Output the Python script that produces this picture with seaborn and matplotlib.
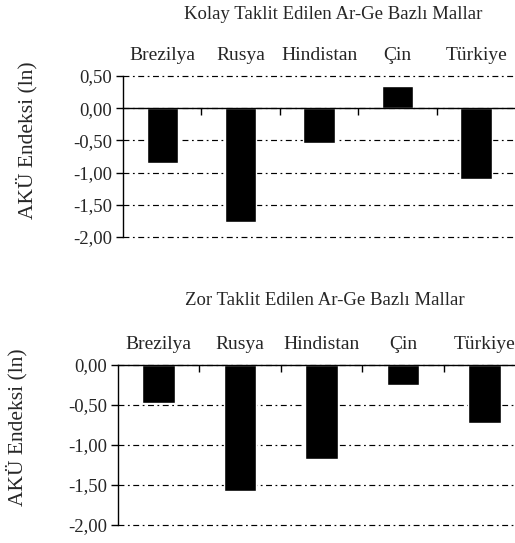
import matplotlib
matplotlib.use("Agg")
import matplotlib.pyplot as plt
from matplotlib.ticker import FuncFormatter
import seaborn as sns

# veriler
ulkeler = ["Brezilya", "Rusya", "Hindistan", "Çin", "Türkiye"]
kolay_degerler = [-0.85, -1.76, -0.54, 0.35, -1.10]
zor_degerler = [-0.48, -1.58, -1.18, -0.25, -0.73]
kolay_baslik = "Kolay Taklit Edilen Ar-Ge Bazlı Mallar"
zor_baslik = "Zor Taklit Edilen Ar-Ge Bazlı Mallar"
eksen_etiketi = "AKÜ Endeksi (ln)"
kolay_yticks = [0.5, 0.0, -0.5, -1.0, -1.5, -2.0]
zor_yticks = [0.0, -0.5, -1.0, -1.5, -2.0]

sns.set_style("white")
plt.rcParams['font.family'] = ['Liberation Serif', 'DejaVu Serif']

fig = plt.figure(figsize=(5.15, 5.43), dpi=100)

virgul = FuncFormatter(lambda v, p: f"{v:.2f}".replace(".", ","))
cizgi = (0, (5, 3, 1.5, 3))


def ciz(ax, degerler, ylim, yticks, baslik, bx, by, lx, ly):
    sns.barplot(x=ulkeler, y=degerler, color="black", saturation=1,
                width=0.4, ax=ax, zorder=3)
    ax.set_xlim(-0.5, 4.5)
    ax.set_ylim(*ylim)
    ax.set_yticks(yticks)
    ax.yaxis.set_major_formatter(virgul)
    ax.set_axisbelow(True)
    ax.yaxis.grid(True, color="black", linewidth=0.85, linestyle=cizgi)
    ax.xaxis.grid(False)
    for g in ax.get_ygridlines():
        g.set_clip_on(False)

    ax.spines["top"].set_visible(False)
    ax.spines["right"].set_visible(False)
    ax.spines["left"].set_linewidth(1.0)
    ax.spines["left"].set_color("black")
    ax.spines["bottom"].set_position(("data", 0))
    ax.spines["bottom"].set_linewidth(1.0)
    ax.spines["bottom"].set_color("black")
    ax.spines["bottom"].set_zorder(4)

    # kategori etiketleri üstte, ayırıcı çentikler sıfır çizgisinde
    ax.set_xticks(range(len(ulkeler)))
    ax.set_xticklabels(ulkeler)
    ax.set_xticks([0.5, 1.5, 2.5, 3.5], minor=True)
    ax.tick_params(axis="x", which="major", bottom=False, top=True,
                   labelbottom=False, labeltop=True, length=0, pad=9,
                   labelsize=14)
    ax.tick_params(axis="x", which="minor", bottom=True, top=False,
                   direction="out", length=5, width=1.0, color="black")
    ax.tick_params(axis="y", left=True, direction="out", length=5,
                   width=1.0, color="black", labelsize=13.5, pad=3)

    ax.set_xlabel("")
    ax.set_ylabel(eksen_etiketi, fontsize=15.5, va="center")
    ax.yaxis.set_label_coords(lx, ly)
    ax.text(bx, by, baslik, transform=ax.transAxes, ha="center",
            va="center", fontsize=13.5)


ax1 = fig.add_axes([0.2388, 0.5635, 0.762, 0.2965])
ciz(ax1, kolay_degerler, (-2.0, 0.5), kolay_yticks, kolay_baslik,
    0.535, 1.385, -0.245, 0.60)

ax2 = fig.add_axes([0.229, 0.0331, 0.791, 0.2947])
ciz(ax2, zor_degerler, (-2.0, 0.0), zor_yticks, zor_baslik,
    0.508, 1.40, -0.248, 0.61)

fig.savefig("out.png", dpi=100)
